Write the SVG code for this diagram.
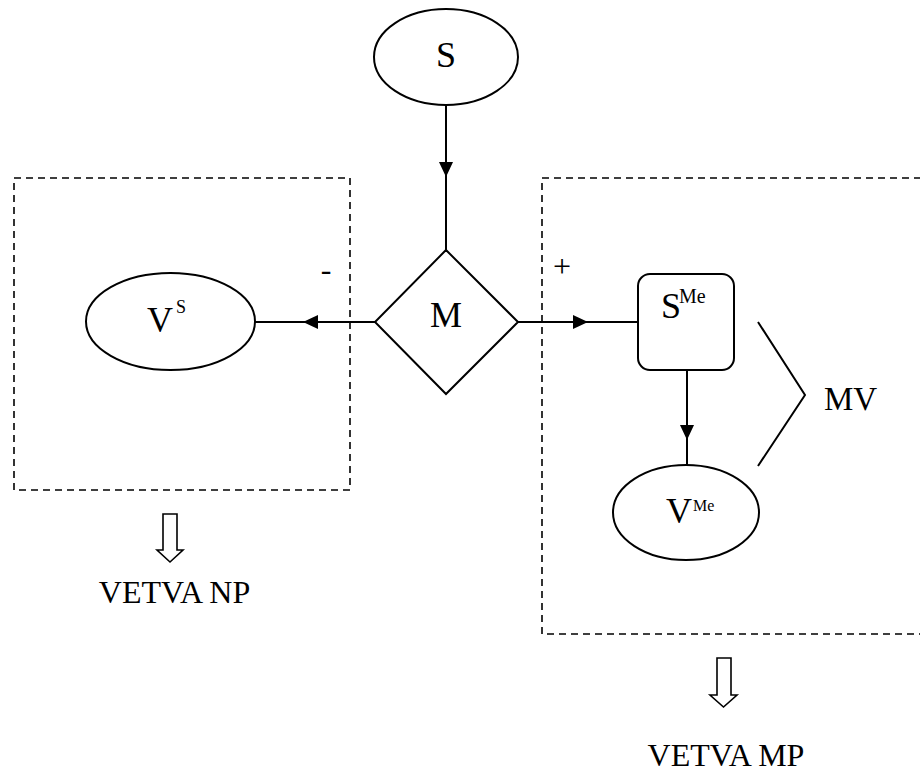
<svg xmlns="http://www.w3.org/2000/svg" width="920" height="772" viewBox="0 0 920 772">
<style>
.shape{fill:#fff;stroke:#000;stroke-width:2}
.conn{fill:none;stroke:#000;stroke-width:2}
.box{fill:none;stroke:#000;stroke-width:1.6;stroke-dasharray:7,5}
.hollow{fill:#fff;stroke:#000;stroke-width:1.6}
.big{font-size:36px}
.lbl{font-size:32px}
</style>
<defs>
<marker id="ah" markerUnits="userSpaceOnUse" viewBox="0 0 15 14" markerWidth="15" markerHeight="14" refX="15" refY="7" orient="auto">
<path d="M0,0 L15,7 L0,14 Z" fill="#000"/>
</marker>
</defs>
<rect width="920" height="772" fill="#fff"/>
<g id="boxes">
<rect class="box" x="14" y="178" width="336" height="312"/>
<rect class="box" x="542" y="178" width="390" height="456"/>
</g>
<g id="connectors">
<path class="conn" d="M446,105 L446,177 L446,250" marker-mid="url(#ah)"/>
<path class="conn" d="M375,322 L303,322 L255,322" marker-mid="url(#ah)"/>
<path class="conn" d="M518,322 L588,322 L638,322" marker-mid="url(#ah)"/>
<path class="conn" d="M687,370 L687,440 L687,465" marker-mid="url(#ah)"/>
</g>
<g font-family="'Liberation Serif', 'Times New Roman', 'DejaVu Serif', serif" fill="#000">
<g id="node-S">
<ellipse class="shape" cx="446" cy="57" rx="72" ry="48"/>
<text class="big" x="446" y="67" text-anchor="middle">S</text>
</g>
<g id="node-M">
<polygon class="shape" points="446,250 518,322 446,394 375,322"/>
<text class="big" x="446" y="327" text-anchor="middle">M</text>
</g>
<g id="node-VS">
<ellipse class="shape" cx="170.5" cy="321.5" rx="84.5" ry="48.5"/>
<text class="big" x="147" y="332">V</text>
<text x="176" y="313" font-size="18">S</text>
</g>
<g id="node-SMe">
<rect class="shape" x="638" y="274" width="96" height="96" rx="12"/>
<text class="big" x="661" y="318">S</text>
<text x="679" y="303" font-size="20">Me</text>
</g>
<g id="node-VMe">
<ellipse class="shape" cx="686" cy="512.5" rx="73" ry="47.5"/>
<text class="big" x="666" y="523">V</text>
<text x="693" y="511" font-size="16">Me</text>
</g>
<g id="signs">
<text class="lbl" x="326" y="280" text-anchor="middle">-</text>
<text class="lbl" x="562" y="277" text-anchor="middle">+</text>
</g>
<g id="MV">
<polyline class="conn" points="758,322 805,395 758,466"/>
<text x="824" y="410" font-size="33">MV</text>
</g>
<g id="out-NP">
<path class="hollow" d="M163,514 L177,514 L177,550 L183,550 L170,562 L157,550 L163,550 Z"/>
<text class="lbl" x="174.5" y="603" text-anchor="middle">VETVA NP</text>
</g>
<g id="out-MP">
<path class="hollow" d="M717,658 L731,658 L731,695 L737,695 L723.5,707 L710,695 L717,695 Z"/>
<text class="lbl" x="726" y="766" text-anchor="middle">VETVA MP</text>
</g>
</g>
</svg>
